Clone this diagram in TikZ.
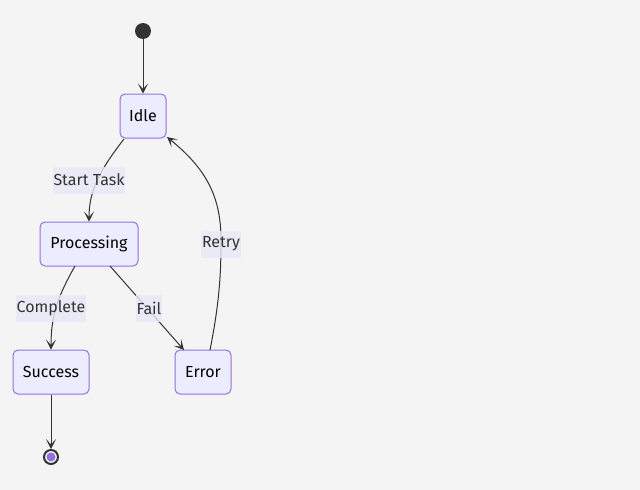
\documentclass[tikz,border=0pt]{standalone}
\usepackage{fontspec}
\setmainfont{Fira Sans}
\usetikzlibrary{arrows.meta}
\definecolor{bgc}{HTML}{F4F4F4}
\definecolor{boxfill}{HTML}{ECECFF}
\definecolor{boxline}{HTML}{9370DB}
\definecolor{dark}{HTML}{333333}
\definecolor{lblbg}{HTML}{E8E8F8}
\tikzset{
  state/.style={draw=boxline, fill=boxfill, line width=1pt, rounded corners=5pt,
    minimum height=44pt, inner xsep=8pt, font=\fontsize{16}{19}\selectfont, text=black},
  edgelbl/.style={fill=lblbg, fill opacity=0.8, text opacity=1, text=dark, inner xsep=1pt,
    minimum height=27pt, font=\fontsize{16}{19}\selectfont},
  conn/.style={draw=dark, line width=1pt, -{Stealth[length=10pt,width=10pt,inset=5.5pt]}},
}
\begin{document}
\begin{tikzpicture}[x=1pt,y=-1pt]
\fill[bgc] (0,0) rectangle (640,490);
\useasboundingbox (0,0) rectangle (640,490);
\node[circle, fill=dark, minimum size=16pt, inner sep=0pt] (start) at (143,31) {};
\node[state, minimum width=46pt] (idle) at (143,116) {Idle};
\node[state, minimum width=98pt] (proc) at (89,244) {Processing};
\node[state, minimum width=76pt] (succ) at (51,372) {Success};
\node[state, minimum width=56pt] (err) at (203,372) {Error};
\node[circle, draw=dark, line width=2pt, fill=bgc, minimum size=14pt, inner sep=0pt] (end) at (51,457) {};
\node[circle, fill=boxline, minimum size=9pt, inner sep=0pt] (endin) at (end.center) {};

\coordinate (idleSW) at (124,139);
\coordinate (idleSE) at (167,137);
\coordinate (procSW) at (75,266);
\coordinate (procSE) at (110,266);
\coordinate (errN) at (210,350);

\draw[conn] (start) -- (idle);
\draw[conn] (idleSW) .. controls (100,170) and (89,190) .. (proc.north);
\draw[conn] (procSW) .. controls (58,296) and (51,315) .. (succ.north);
\draw[conn] (procSE) -- (184,350);
\draw[conn] (errN) .. controls (220,300) and (221,270) .. (221,240)
   .. controls (221,195) and (205,168) .. (idleSE);
\draw[conn] (succ) -- (end);

\node[edgelbl] (l1) at (89,180) {Start Task};
\node[edgelbl] (l2) at (51,308) {Complete};
\node[edgelbl] (l3) at (149,308) {Fail};
\node[edgelbl] (l4) at (221,244) {Retry};
\end{tikzpicture}
\end{document}
